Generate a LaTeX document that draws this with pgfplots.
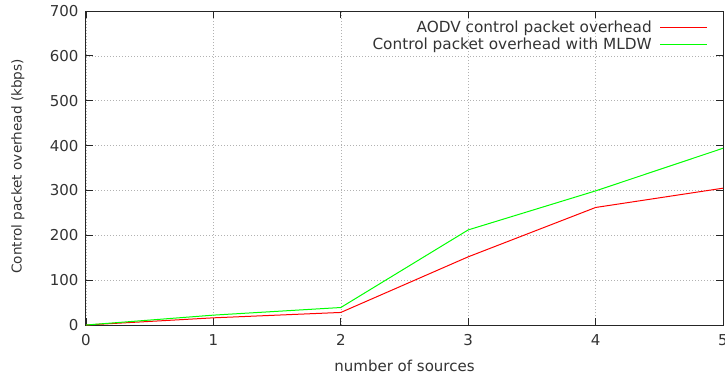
\documentclass[border=0pt]{standalone}
\usepackage{fontspec}
\setmainfont{DejaVu Sans}
\usepackage{pgfplots}
\pgfplotsset{compat=1.18}
\usetikzlibrary{calc}
\newcommand{\tfont}{\fontsize{15}{17}\selectfont}
\begin{document}
\begin{tikzpicture}
\begin{axis}[
  scale only axis, width=637pt, height=314pt,
  xmin=0, xmax=5, ymin=0, ymax=700,
  xtick={0,1,2,3,4,5}, ytick={0,100,200,300,400,500,600,700},
  tick align=inside, major tick length=7pt,
  grid=major,
  major grid style={gray!60, dash pattern=on 1pt off 2pt, line width=0.6pt},
  axis line style={black!85, line width=1pt},
  every tick/.style={black!85, line width=0.9pt},
  /pgf/number format/assume math mode=true,
  tick label style={font=\tfont, text=black!80},
  xticklabel style={yshift=-6pt},
  yticklabel style={xshift=-4pt},
  label style={font=\tfont, text=black!80},
  xlabel={number of sources},
  ylabel={Control packet overhead (kbps)},
  xlabel style={at={(axis description cs:0.5,-0.13)}, anchor=center},
  ylabel style={at={(axis description cs:-0.107,0.505)}, anchor=center,
    font=\fontsize{13.6}{15}\selectfont},
  legend plot pos=right,
  legend cell align=right,
  legend style={draw=none, fill=none, font=\fontsize{15.3}{17}\selectfont, text=black!80,
    at={(rel axis cs:1,1)}, anchor=north east, xshift=-12pt, yshift=-6pt,
    row sep=0pt, column sep=6pt},
]
\addplot[red, line width=1pt,
  legend image code/.code={\draw[draw=red, line width=1.1pt] (0pt,0pt) -- (47pt,0pt);}]
  coordinates {(0,0) (1,16) (2,28) (3,152) (4,262) (5,305)};
\addlegendentry{AODV control packet overhead}
\addplot[green, line width=1pt,
  legend image code/.code={\draw[draw=green, line width=1.1pt] (0pt,0pt) -- (47pt,0pt);}]
  coordinates {(0,0) (1,22) (2,39) (3,212) (4,299) (5,394)};
\addlegendentry{Control packet overhead with MLDW}
\end{axis}
\pgfresetboundingbox
\path ($(current axis.south west)+(-86pt,-51pt)$) rectangle ($(current axis.south west)+(639pt,325pt)$);
\end{tikzpicture}
\end{document}
